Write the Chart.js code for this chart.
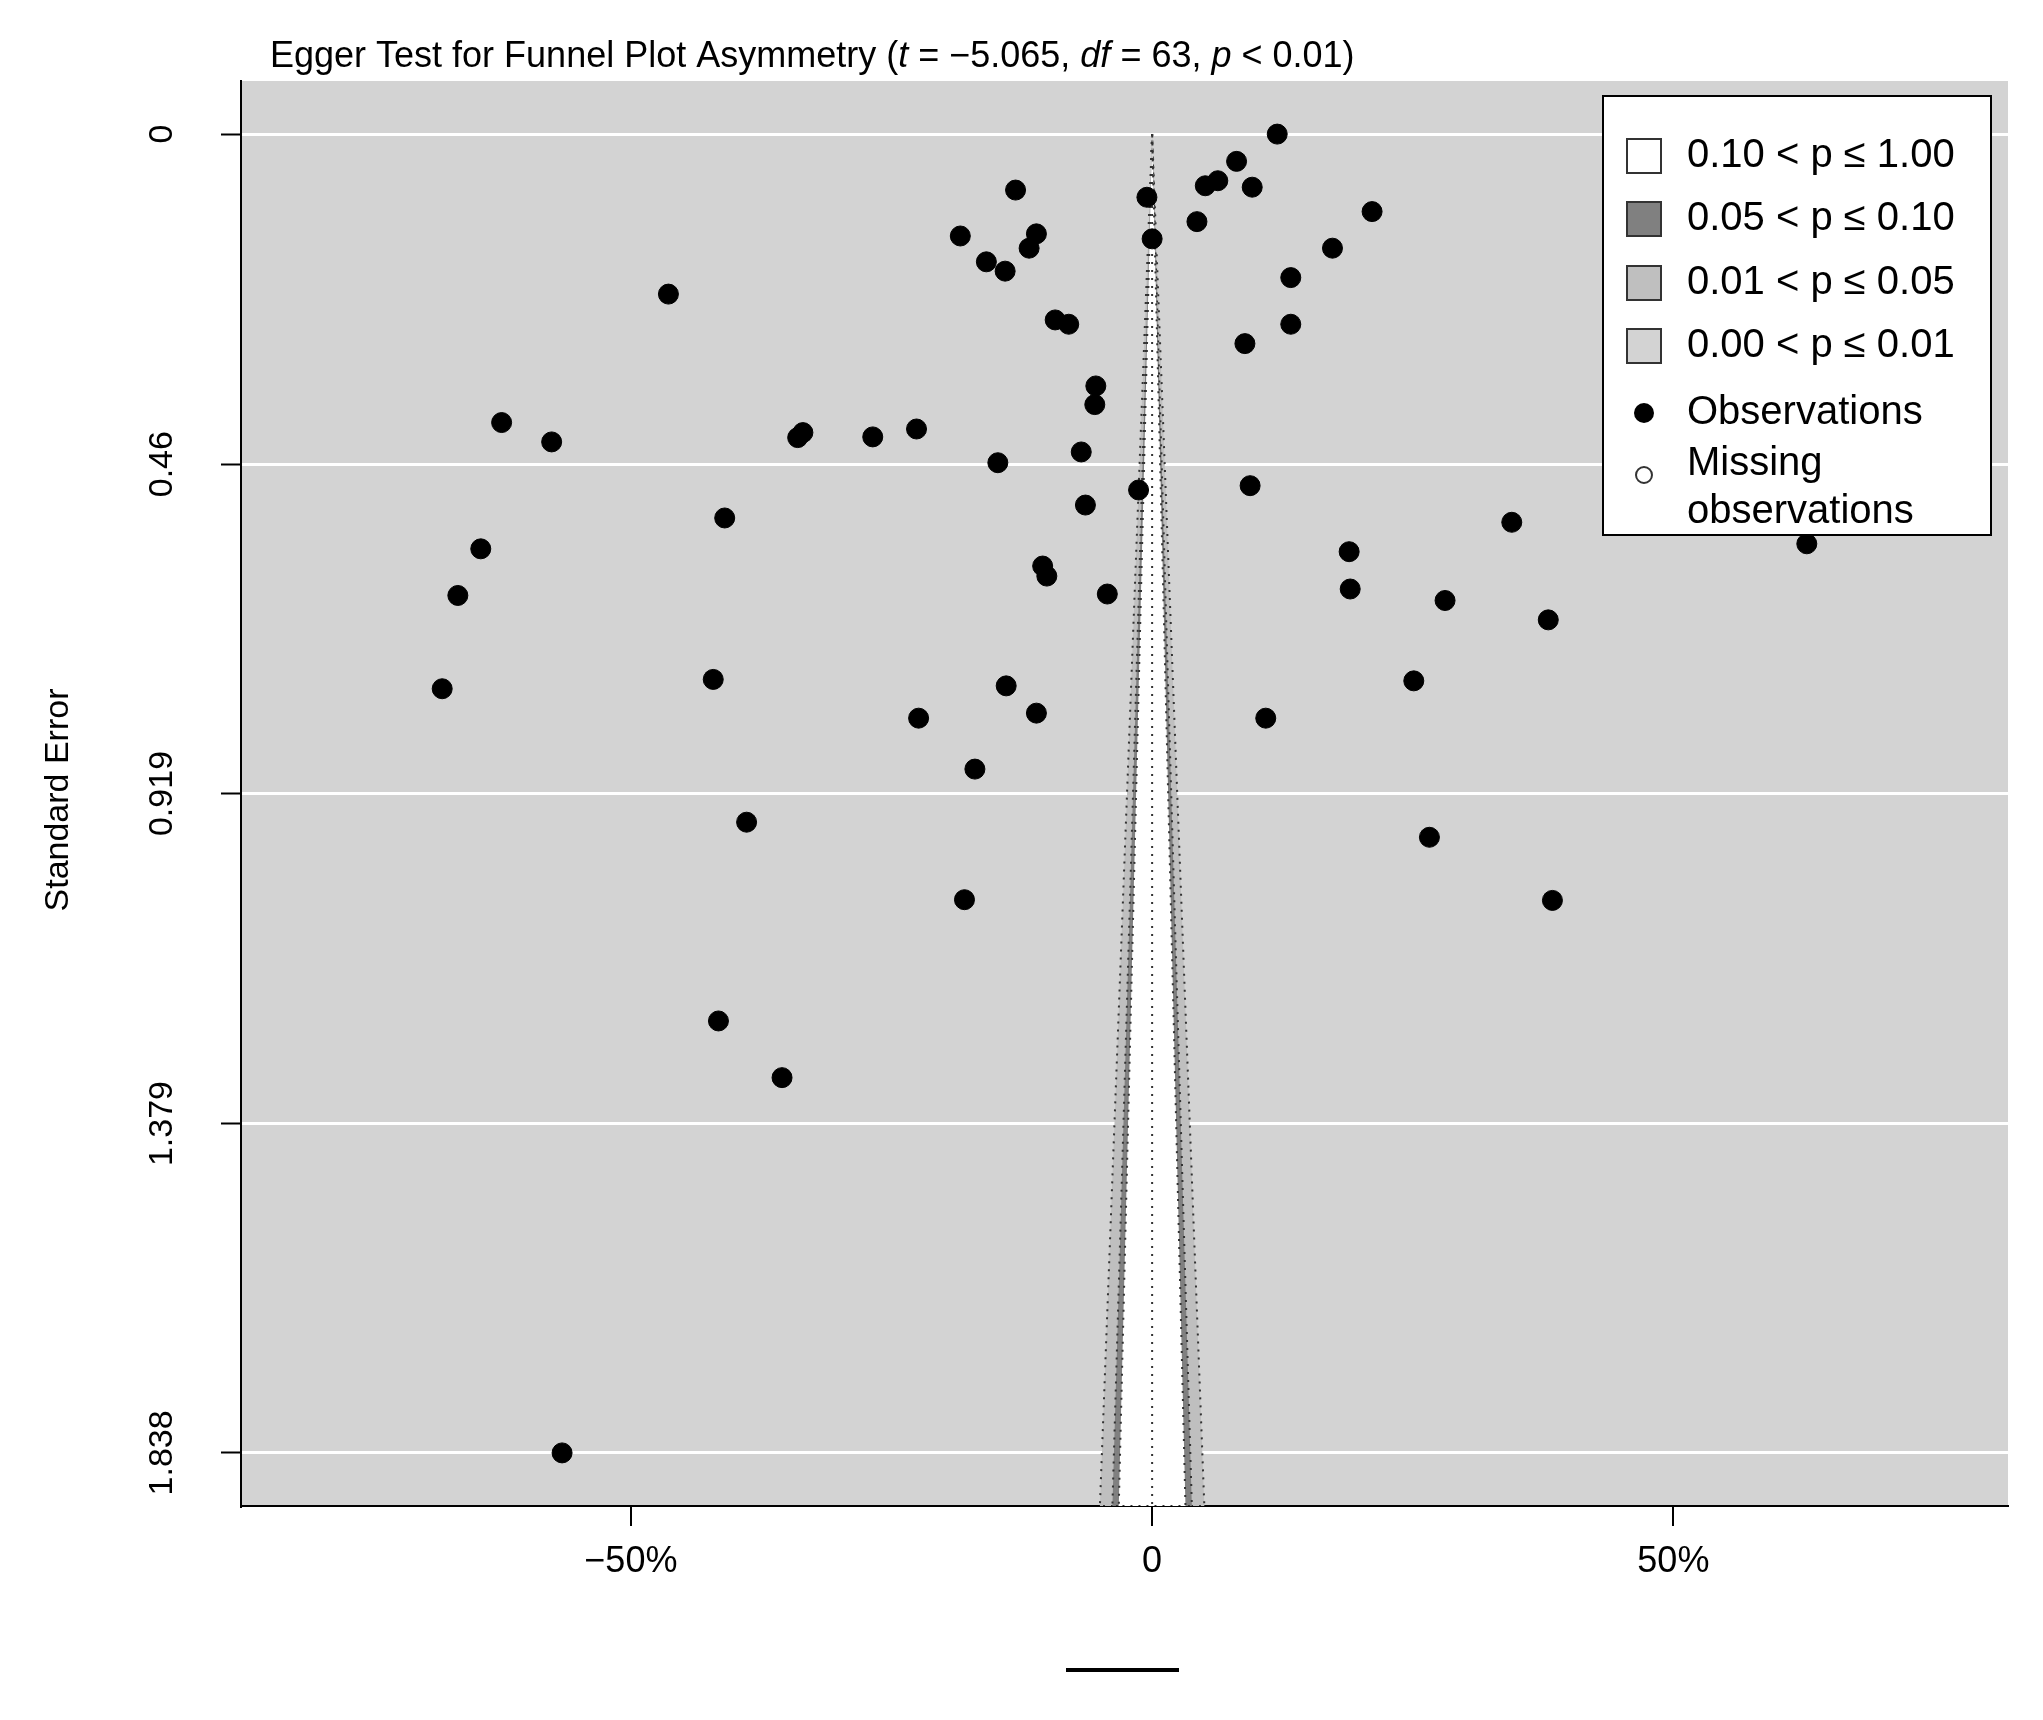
<!DOCTYPE html>
<html><head><meta charset="utf-8">
<script src="https://cdn.jsdelivr.net/npm/chart.js@4.4.0/dist/chart.umd.min.js"></script>
<style>html,body{margin:0;padding:0;background:#fff}#wrap{width:2043px;height:1720px}</style>
</head><body><div id="wrap"><canvas id="c"></canvas></div>
<script>
// effect size (%) and standard error of each study
const effect = [12.0,8.1,6.3,5.1,9.6,-0.5,-13.1,21.1,4.3,-18.4,-11.1,0.0,-15.9,-14.1,-11.8,17.3,13.3,-46.4,-9.3,-8.0,13.3,8.9,-5.4,-5.5,-62.4,-57.6,-34.0,-33.5,-26.8,-22.6,-6.8,-14.8,-1.3,9.4,-6.4,34.5,-41.0,62.8,-64.4,18.9,-10.5,-10.1,-66.6,-4.3,19.0,28.1,38.0,-68.1,-42.1,25.1,-14.0,-11.1,-22.4,10.9,-17.0,-38.9,26.6,-18.0,38.4,-41.6,-35.5,-56.6];
const stdErr = [0.000,0.038,0.065,0.072,0.074,0.088,0.078,0.108,0.122,0.142,0.139,0.146,0.178,0.191,0.159,0.159,0.200,0.223,0.259,0.265,0.265,0.292,0.351,0.377,0.402,0.429,0.423,0.416,0.422,0.411,0.443,0.458,0.496,0.490,0.517,0.541,0.535,0.571,0.578,0.582,0.602,0.616,0.643,0.641,0.634,0.650,0.677,0.773,0.760,0.762,0.769,0.807,0.814,0.814,0.885,0.959,0.980,1.067,1.068,1.236,1.315,1.838];
const xTicks = [-50, 0, 50];
const xTickLabels = ['−50%', '0', '50%'];
const yTicks = [0, 0.46, 0.919, 1.379, 1.838];
const zValues = [2.576, 1.96, 1.645];
const zColors = ['#bfbfbf', '#808080', '#ffffff'];
const seMax = 1.912;
const unit = 1.017; // % per z per SE

const funnel = zValues.map((z, i) => ({
  type: 'line',
  data: [{x: 0, y: 0}, {x: -z * seMax * unit, y: seMax}, {x: z * seMax * unit, y: seMax}, {x: 0, y: 0}],
  borderColor: '#333', borderWidth: 2, borderDash: [2, 6], fill: 'shape',
  backgroundColor: zColors[i], pointRadius: 0, tension: 0, order: 10 - i
}));
funnel.push({
  type: 'line', data: [{x: 0, y: 0}, {x: 0, y: seMax}],
  borderColor: '#333', borderWidth: 2, borderDash: [2, 6], pointRadius: 0, order: 5
});

const bgPlugin = {
  id: 'bg',
  beforeDraw(chart) {
    const {ctx, chartArea: a} = chart;
    ctx.save(); ctx.fillStyle = '#d3d3d3';
    ctx.fillRect(a.left, a.top, a.right - a.left, a.bottom - a.top); ctx.restore();
  },
  afterDraw(chart) {
    const {ctx, chartArea: a} = chart;
    const y = chart.scales.y;
    ctx.save();
    ctx.fillStyle = '#000'; ctx.textBaseline = 'middle'; ctx.textAlign = 'center';
    ctx.font = '34px Arial, "Liberation Sans"';
    yTicks.forEach(v => {
      ctx.save(); ctx.translate(163, y.getPixelForValue(v)); ctx.rotate(-Math.PI / 2);
      ctx.fillText(String(v), 0, 0); ctx.restore();
    });
    ctx.save(); ctx.translate(59, 800); ctx.rotate(-Math.PI / 2);
    ctx.fillText('Standard Error', 0, 0); ctx.restore();
    // title with italic parts
    const parts = [['Egger Test for Funnel Plot Asymmetry (', ''], ['t', 'italic '], [' = −5.065, ', ''], ['df', 'italic '], [' = 63, ', ''], ['p', 'italic '], [' < 0.01)', '']];
    let tx = 270; ctx.textAlign = 'left';
    parts.forEach(([s, st]) => {
      ctx.font = st + '36px Arial, "Liberation Sans"';
      ctx.fillText(s, tx, 57); tx += ctx.measureText(s).width;
    });
    // x label fragment
    ctx.fillRect(1066, 1668, 113, 4);
    // legend
    const lx = 1603, ly = 96, lw = 388, lh = 439;
    ctx.fillStyle = '#fff'; ctx.fillRect(lx, ly, lw, lh);
    ctx.strokeStyle = '#000'; ctx.lineWidth = 2; ctx.strokeRect(lx, ly, lw, lh);
    ctx.font = '40px Arial, "Liberation Sans"'; ctx.fillStyle = '#000';
    const labels = ['0.10 < p ≤ 1.00', '0.05 < p ≤ 0.10', '0.01 < p ≤ 0.05', '0.00 < p ≤ 0.01'];
    const boxes = ['#ffffff', '#808080', '#bfbfbf', '#d3d3d3'];
    const rows = [156, 219, 283, 346];
    labels.forEach((t, i) => {
      ctx.fillStyle = boxes[i]; ctx.fillRect(1627, rows[i] - 17, 34, 34);
      ctx.strokeStyle = '#333'; ctx.lineWidth = 2; ctx.strokeRect(1627, rows[i] - 17, 34, 34);
      ctx.fillStyle = '#000'; ctx.fillText(t, 1687, rows[i]);
    });
    ctx.beginPath(); ctx.arc(1644, 413, 10, 0, 2 * Math.PI); ctx.fill();
    ctx.fillText('Observations', 1687, 413);
    ctx.beginPath(); ctx.arc(1644, 475, 8, 0, 2 * Math.PI); ctx.lineWidth = 2; ctx.stroke();
    ctx.fillText('Missing', 1687, 464); ctx.fillText('observations', 1687, 512);
    ctx.restore();
  }
};

new Chart(document.getElementById('c'), {
  type: 'scatter',
  data: {
    datasets: [...funnel, {
      type: 'scatter',
      data: effect.map((e, i) => ({x: e, y: stdErr[i]})),
      backgroundColor: '#000', borderColor: '#000', pointRadius: 10, order: 0
    }]
  },
  options: {
    responsive: true, maintainAspectRatio: false, animation: false,
    layout: {padding: {top: 81, right: 35, left: 0, bottom: 0}},
    plugins: {legend: {display: false}, tooltip: {enabled: false}},
    scales: {
      x: {
        type: 'linear', min: -87.4, max: 82.1,
        afterBuildTicks: s => { s.ticks = xTicks.map(v => ({value: v})); },
        afterFit: s => { s.height = 214; },
        grid: {drawOnChartArea: false, tickLength: 20, color: '#000', lineWidth: 2},
        border: {color: '#000', width: 2},
        ticks: {color: '#000', font: {size: 36, family: 'Arial, "Liberation Sans"'}, padding: 14,
          callback: (v) => xTickLabels[xTicks.indexOf(v)]}
      },
      y: {
        type: 'linear', reverse: true, min: -0.074, max: seMax,
        afterBuildTicks: s => { s.ticks = yTicks.map(v => ({value: v})); },
        afterFit: s => { s.width = 241; },
        grid: {color: '#ffffff', lineWidth: 3, tickLength: 20, tickColor: '#000', tickWidth: 2},
        border: {color: '#000', width: 2},
        ticks: {display: false}
      }
    }
  },
  plugins: [bgPlugin]
});
</script></body></html>
